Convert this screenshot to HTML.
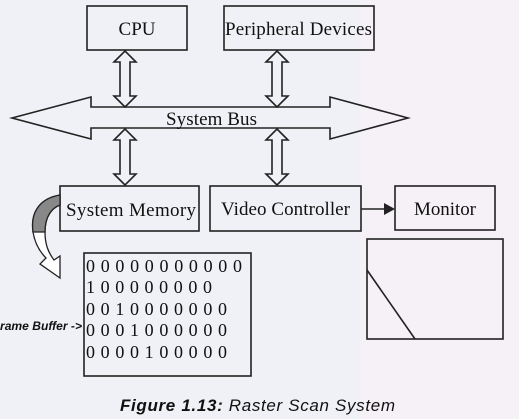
<!DOCTYPE html>
<html><head><style>
body{margin:0;width:519px;height:419px;overflow:hidden;background:#f1f1f6;}
svg{display:block}
</style></head><body>
<svg width="519" height="419" xmlns="http://www.w3.org/2000/svg">
<rect width="519" height="419" fill="#f0f1f6"/>
<rect x="360" y="0" width="159" height="419" fill="#f6f1f6"/>
<g fill="none" stroke="#222" stroke-width="1.6">
<rect x="87" y="6" width="100" height="44"/>
<rect x="224" y="6" width="150" height="44"/>
<path d="M12,118 L91,97 L91,107 L330,107 L330,97 L408,118 L330,139 L330,128 L91,128 L91,139 Z"/>
<path d="M125,51 L136,62 L130,62 L130,96 L136,96 L125,107 L114,96 L120,96 L120,62 L114,62 Z"/>
<path d="M277,51 L288,62 L282,62 L282,96 L288,96 L277,107 L266,96 L272,96 L272,62 L266,62 Z"/>
<path d="M125,129 L136,140 L130,140 L130,174 L136,174 L125,185 L114,174 L120,174 L120,140 L114,140 Z"/>
<path d="M277,129 L288,140 L282,140 L282,174 L288,174 L277,185 L266,174 L272,174 L272,140 L266,140 Z"/>
<rect x="60" y="186" width="139" height="45"/>
<rect x="210" y="186" width="151" height="45"/>
<rect x="395" y="186" width="100" height="44"/>
<rect x="367" y="239" width="136" height="100"/>
<path d="M367,270 L415,339"/>
<rect x="84" y="253" width="167" height="123"/>
<line x1="361" y1="209" x2="386" y2="209"/>
</g>
<path d="M395,209 L384,203 L384,215 Z" fill="#222"/>
<path d="M60,195 C42,198 30,210 33,232 C35,244 40,252 46,258 L40,264 L60,278 L60,256 L54,260 C48,252 45,244 45,232 C45,216 52,208 60,205 Z" fill="#fff" stroke="#222" stroke-width="1.3"/>
<path d="M60,195 C42,198 30,210 33,232 L45,232 C45,216 52,208 60,205 Z" fill="#888" stroke="#222" stroke-width="1.3"/>
<g font-family="Liberation Serif, serif" fill="#111" font-size="19">
<text x="137" y="35" text-anchor="middle">CPU</text>
<text x="225" y="35" textLength="147" lengthAdjust="spacing">Peripheral Devices</text>
<text x="166" y="125" textLength="91" lengthAdjust="spacing">System Bus</text>
<text x="66" y="216" textLength="130" lengthAdjust="spacing">System Memory</text>
<text x="221" y="215" textLength="129" lengthAdjust="spacing">Video Controller</text>
<text x="414" y="215" textLength="62" lengthAdjust="spacing">Monitor</text>
<g font-size="18">
<text x="86" y="272" textLength="156" lengthAdjust="spacing">00000000000</text>
<text x="86" y="293" textLength="126" lengthAdjust="spacing">100000000</text>
<text x="86" y="315" textLength="141" lengthAdjust="spacing">0010000000</text>
<text x="86" y="336" textLength="141" lengthAdjust="spacing">0001000000</text>
<text x="86" y="358" textLength="141" lengthAdjust="spacing">0000100000</text>
</g>
</g>
<text x="0" y="330" textLength="82" lengthAdjust="spacingAndGlyphs" font-family="Liberation Sans, sans-serif" font-size="12" font-style="italic" font-weight="bold" fill="#111">rame Buffer -&gt;</text>
<text x="120" y="411" textLength="275" lengthAdjust="spacing" font-family="Liberation Sans, sans-serif" font-size="17" font-style="italic" fill="#111"><tspan font-weight="bold">Figure 1.13:</tspan> Raster Scan System</text>
</svg>
</body></html>
